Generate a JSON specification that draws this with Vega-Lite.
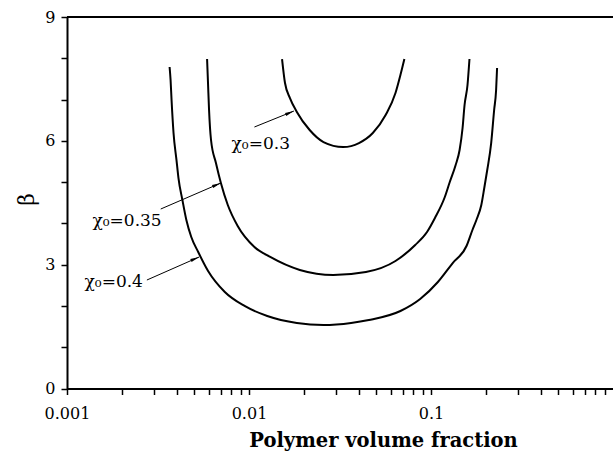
{
  "$schema": "https://vega.github.io/schema/vega-lite/v6.json",
  "width": 546,
  "height": 371.5,
  "autosize": "none",
  "padding": {"left": 67, "top": 17, "right": 0, "bottom": 62.5},
  "background": "white",
  "config": {
    "view": {"stroke": null},
    "axis": {
      "grid": false,
      "domainColor": "black",
      "domainWidth": 2,
      "tickColor": "black",
      "tickWidth": 1.5,
      "labelColor": "black",
      "titleColor": "black",
      "labelFont": "DejaVu Serif",
      "titleFont": "DejaVu Serif",
      "labelFlush": false,
      "labelOverlap": false
    }
  },
  "datasets": {
    "curves": [
      {"curve": "0.4", "i": 1, "x": 0.003662, "y": 7.788},
      {"curve": "0.4", "i": 2, "x": 0.003708, "y": 7.473},
      {"curve": "0.4", "i": 3, "x": 0.003754, "y": 6.989},
      {"curve": "0.4", "i": 4, "x": 0.003849, "y": 6.19},
      {"curve": "0.4", "i": 5, "x": 0.003996, "y": 5.535},
      {"curve": "0.4", "i": 6, "x": 0.004097, "y": 5.099},
      {"curve": "0.4", "i": 7, "x": 0.004306, "y": 4.566},
      {"curve": "0.4", "i": 8, "x": 0.004527, "y": 4.082},
      {"curve": "0.4", "i": 9, "x": 0.004818, "y": 3.67},
      {"curve": "0.4", "i": 10, "x": 0.005259, "y": 3.307},
      {"curve": "0.4", "i": 11, "x": 0.005959, "y": 2.846},
      {"curve": "0.4", "i": 12, "x": 0.007364, "y": 2.338},
      {"curve": "0.4", "i": 13, "x": 0.009454, "y": 1.999},
      {"curve": "0.4", "i": 14, "x": 0.0126, "y": 1.756},
      {"curve": "0.4", "i": 15, "x": 0.01832, "y": 1.587},
      {"curve": "0.4", "i": 16, "x": 0.02566, "y": 1.538},
      {"curve": "0.4", "i": 17, "x": 0.03639, "y": 1.587},
      {"curve": "0.4", "i": 18, "x": 0.04555, "y": 1.659},
      {"curve": "0.4", "i": 19, "x": 0.06792, "y": 1.877},
      {"curve": "0.4", "i": 20, "x": 0.0872, "y": 2.168},
      {"curve": "0.4", "i": 21, "x": 0.1091, "y": 2.58},
      {"curve": "0.4", "i": 22, "x": 0.1316, "y": 3.04},
      {"curve": "0.4", "i": 23, "x": 0.1567, "y": 3.452},
      {"curve": "0.4", "i": 24, "x": 0.1689, "y": 3.84},
      {"curve": "0.4", "i": 25, "x": 0.1776, "y": 4.082},
      {"curve": "0.4", "i": 26, "x": 0.189, "y": 4.445},
      {"curve": "0.4", "i": 27, "x": 0.1962, "y": 4.857},
      {"curve": "0.4", "i": 28, "x": 0.2037, "y": 5.293},
      {"curve": "0.4", "i": 29, "x": 0.2141, "y": 5.947},
      {"curve": "0.4", "i": 30, "x": 0.2223, "y": 6.747},
      {"curve": "0.4", "i": 31, "x": 0.2279, "y": 7.231},
      {"curve": "0.4", "i": 32, "x": 0.2307, "y": 7.764},
      {"curve": "0.35", "i": 1, "x": 0.005884, "y": 7.982},
      {"curve": "0.35", "i": 2, "x": 0.005959, "y": 7.352},
      {"curve": "0.35", "i": 3, "x": 0.006033, "y": 6.747},
      {"curve": "0.35", "i": 4, "x": 0.006185, "y": 6.02},
      {"curve": "0.35", "i": 5, "x": 0.006582, "y": 5.463},
      {"curve": "0.35", "i": 6, "x": 0.007007, "y": 4.978},
      {"curve": "0.35", "i": 7, "x": 0.007647, "y": 4.445},
      {"curve": "0.35", "i": 8, "x": 0.008665, "y": 3.937},
      {"curve": "0.35", "i": 9, "x": 0.01071, "y": 3.428},
      {"curve": "0.35", "i": 10, "x": 0.01308, "y": 3.186},
      {"curve": "0.35", "i": 11, "x": 0.01902, "y": 2.871},
      {"curve": "0.35", "i": 12, "x": 0.02907, "y": 2.75},
      {"curve": "0.35", "i": 13, "x": 0.04388, "y": 2.822},
      {"curve": "0.35", "i": 14, "x": 0.0638, "y": 3.089},
      {"curve": "0.35", "i": 15, "x": 0.0819, "y": 3.476},
      {"curve": "0.35", "i": 16, "x": 0.0951, "y": 3.791},
      {"curve": "0.35", "i": 17, "x": 0.1051, "y": 4.13},
      {"curve": "0.35", "i": 18, "x": 0.1191, "y": 4.639},
      {"curve": "0.35", "i": 19, "x": 0.1268, "y": 5.002},
      {"curve": "0.35", "i": 20, "x": 0.1366, "y": 5.414},
      {"curve": "0.35", "i": 21, "x": 0.1436, "y": 5.778},
      {"curve": "0.35", "i": 22, "x": 0.1491, "y": 6.311},
      {"curve": "0.35", "i": 23, "x": 0.1529, "y": 6.868},
      {"curve": "0.35", "i": 24, "x": 0.1587, "y": 7.352},
      {"curve": "0.35", "i": 25, "x": 0.1627, "y": 7.982},
      {"curve": "0.3", "i": 1, "x": 0.01519, "y": 7.982},
      {"curve": "0.3", "i": 2, "x": 0.01577, "y": 7.401},
      {"curve": "0.3", "i": 3, "x": 0.01679, "y": 7.037},
      {"curve": "0.3", "i": 4, "x": 0.01832, "y": 6.698},
      {"curve": "0.3", "i": 5, "x": 0.02154, "y": 6.262},
      {"curve": "0.3", "i": 6, "x": 0.02566, "y": 5.971},
      {"curve": "0.3", "i": 7, "x": 0.03293, "y": 5.85},
      {"curve": "0.3", "i": 8, "x": 0.04021, "y": 5.947},
      {"curve": "0.3", "i": 9, "x": 0.04789, "y": 6.19},
      {"curve": "0.3", "i": 10, "x": 0.05632, "y": 6.626},
      {"curve": "0.3", "i": 11, "x": 0.0638, "y": 7.158},
      {"curve": "0.3", "i": 12, "x": 0.06792, "y": 7.594},
      {"curve": "0.3", "i": 13, "x": 0.0714, "y": 7.982}
    ],
    "arrows": [
      {"curve": "0.3", "x": 0.01071, "y": 6.335, "x2": 0.01765, "y2": 6.722},
      {"curve": "0.35", "x": 0.003273, "y": 4.348, "x2": 0.007007, "y2": 4.978},
      {"curve": "0.4", "x": 0.002748, "y": 2.628, "x2": 0.005325, "y2": 3.186}
    ],
    "labels": [
      {"text": "χ₀=0.3", "x": 0.01679, "y": 5.802},
      {"text": "χ₀=0.35", "x": 0.003313, "y": 3.937},
      {"text": "χ₀=0.4", "x": 0.002614, "y": 2.459}
    ]
  },
  "layer": [
    {
      "data": {"name": "curves"},
      "mark": {"type": "line", "color": "black", "strokeWidth": 2, "interpolate": "monotone"},
      "encoding": {
        "x": {
          "field": "x",
          "type": "quantitative",
          "scale": {"type": "log", "domain": [0.001, 0.91]},
          "axis": {
            "title": "Polymer volume fraction",
            "titleFontWeight": "bold",
            "titleFontSize": 19.5,
            "titleX": 316,
            "titleY": 57.5,
            "titleBaseline": "alphabetic",
            "titleAlign": "center",
            "values": [0.001, 0.002, 0.003, 0.004, 0.005, 0.006, 0.007, 0.008, 0.009, 0.01, 0.02, 0.03, 0.04, 0.05, 0.06, 0.07, 0.08, 0.09, 0.1, 0.2, 0.3, 0.4, 0.5, 0.6, 0.7, 0.8, 0.9],
            "labelExpr": "abs(log(datum.value)/LN10 - round(log(datum.value)/LN10)) < 0.001 ? format(datum.value, '~g') : ''",
            "labelFontSize": 16,
            "labelPadding": 11,
            "tickSize": 6,
            "encode": {
              "ticks": {
                "update": {
                  "y": {"signal": "abs(log(datum.value)/LN10 - round(log(datum.value)/LN10)) < 0.001 ? -6 : 0"},
                  "y2": {"signal": "abs(log(datum.value)/LN10 - round(log(datum.value)/LN10)) < 0.001 ? 6 : 5"}
                }
              }
            }
          }
        },
        "y": {
          "field": "y",
          "type": "quantitative",
          "scale": {"domain": [0, 9]},
          "axis": {
            "title": "β",
            "titleFontSize": 22,
            "titleFontWeight": "normal",
            "titleAngle": -90,
            "titleX": -41,
            "titleY": 182,
            "titleAlign": "center",
            "titleBaseline": "middle",
            "values": [0, 0.5, 1, 1.5, 2, 2.5, 3, 3.5, 4, 4.5, 5, 5.5, 6, 6.5, 7, 7.5, 8, 8.5, 9],
            "labelExpr": "datum.value % 3 == 0 ? format(datum.value, 'd') : ''",
            "labelFontSize": 16,
            "labelPadding": 6,
            "tickSize": 6,
            "encode": {
              "ticks": {
                "update": {
                  "x": {"signal": "datum.value % 3 == 0 ? 6 : 0"},
                  "x2": {"signal": "datum.value % 3 == 0 ? -6 : -5"}
                }
              }
            }
          }
        },
        "detail": {"field": "curve"},
        "order": {"field": "i"}
      }
    },
    {
      "data": {"values": [{"top": 9}]},
      "mark": {"type": "rule", "color": "black", "strokeWidth": 2},
      "encoding": {"y": {"field": "top", "type": "quantitative"}}
    },
    {
      "data": {"name": "arrows"},
      "mark": {"type": "rule", "color": "black", "strokeWidth": 1},
      "encoding": {
        "x": {"field": "x", "type": "quantitative"},
        "y": {"field": "y", "type": "quantitative"},
        "x2": {"field": "x2"},
        "y2": {"field": "y2"}
      }
    },
    {
      "data": {"name": "arrows"},
      "mark": {"type": "point", "shape": "M0,0L-2,-0.36L-2,0.36Z", "filled": true, "color": "black", "opacity": 1, "size": 81, "angle": 337},
      "encoding": {
        "x": {"field": "x2", "type": "quantitative"},
        "y": {"field": "y2", "type": "quantitative"}
      }
    },
    {
      "data": {"name": "labels"},
      "mark": {"type": "text", "align": "right", "baseline": "alphabetic", "font": "DejaVu Serif", "fontSize": 17, "color": "black"},
      "encoding": {
        "x": {"field": "x", "type": "quantitative"},
        "y": {"field": "y", "type": "quantitative"},
        "text": {"field": "text"}
      }
    }
  ]
}
